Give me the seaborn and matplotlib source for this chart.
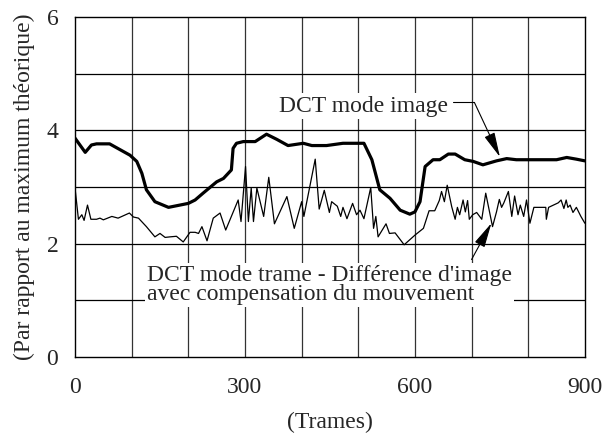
import matplotlib
matplotlib.use('Agg')
import matplotlib.pyplot as plt
import seaborn as sns
import pandas as pd

# DCT mode image (thick line)
image_frames = [0, 18, 29, 38, 61, 79, 97, 109, 118, 126, 141, 165, 200, 212, 226, 250,
                262, 276, 279, 285, 297, 318, 338, 356, 376, 403, 418, 444, 473, 510,
                524, 538, 556, 574, 591, 600, 609, 618, 632, 644, 659, 671, 688, 703,
                720, 744, 762, 779, 850, 868, 885, 900]
image_values = [3.86, 3.61, 3.74, 3.76, 3.76, 3.66, 3.56, 3.45, 3.24, 2.95, 2.74, 2.64, 2.71,
                2.77, 2.89, 3.09, 3.15, 3.30, 3.68, 3.77, 3.80, 3.80, 3.93, 3.84, 3.73,
                3.77, 3.73, 3.73, 3.77, 3.77, 3.48, 2.95, 2.80, 2.59, 2.52, 2.56, 2.74,
                3.36, 3.48, 3.48, 3.58, 3.58, 3.48, 3.45, 3.39, 3.46, 3.50, 3.48, 3.48,
                3.52, 3.49, 3.46]

# DCT mode trame - difference d'image (thin line)
trame_frames = [0, 6, 12, 16, 22, 28, 38, 44, 50, 65, 76, 96, 103, 112, 126, 141, 150, 159,
                168, 179, 191, 203, 212, 218, 224, 233, 244, 256, 266, 288, 293, 301, 306,
                311, 315, 321, 333, 342, 352, 374, 387, 400, 404, 424, 431, 440, 449, 453,
                463, 469, 473, 480, 490, 497, 503, 510, 522, 527, 531, 535, 549, 555, 565,
                581, 600, 615, 625, 635, 643, 647, 652, 657, 665, 671, 675, 679, 685, 689,
                693, 696, 702, 709, 718, 725, 737, 744, 749, 753, 757, 765, 771, 776, 782,
                786, 792, 797, 803, 810, 831, 832, 836, 853, 858, 863, 867, 870, 874, 879,
                885, 893, 900]
trame_values = [2.98, 2.43, 2.51, 2.41, 2.68, 2.43, 2.43, 2.45, 2.42, 2.48, 2.45, 2.54, 2.47,
                2.45, 2.30, 2.12, 2.18, 2.11, 2.12, 2.13, 2.03, 2.20, 2.20, 2.18, 2.30, 2.05,
                2.45, 2.54, 2.24, 2.77, 2.39, 3.36, 2.39, 2.98, 2.39, 2.98, 2.48, 3.17, 2.35,
                2.83, 2.27, 2.74, 2.48, 3.49, 2.61, 2.94, 2.55, 2.74, 2.66, 2.48, 2.64, 2.44,
                2.71, 2.51, 2.59, 2.44, 2.99, 2.27, 2.48, 2.12, 2.35, 2.18, 2.19, 1.98, 2.15,
                2.27, 2.58, 2.58, 2.76, 2.92, 2.74, 3.03, 2.65, 2.43, 2.64, 2.51, 2.77, 2.56,
                2.76, 2.43, 2.51, 2.55, 2.43, 2.89, 2.30, 2.56, 2.78, 2.64, 2.72, 2.92, 2.48,
                2.84, 2.51, 2.68, 2.48, 2.77, 2.36, 2.64, 2.64, 2.43, 2.64, 2.72, 2.77, 2.62,
                2.77, 2.64, 2.68, 2.55, 2.64, 2.48, 2.36]

x_ticks = [0, 300, 600, 900]
y_ticks = [0, 2, 4, 6]

sns.set_style('white')
plt.rcParams['font.family'] = ['Liberation Serif', 'DejaVu Serif']
plt.rcParams['font.size'] = 17

image_df = pd.DataFrame({'Trames': image_frames, 'Valeur': image_values})
trame_df = pd.DataFrame({'Trames': trame_frames, 'Valeur': trame_values})

fig = plt.figure(figsize=(6.15, 4.43), dpi=100)
ax = fig.add_axes([0.122, 0.194, 0.829, 0.768])

# grid drawn under the curves
for gx in range(100, 900, 100):
    ax.axvline(gx, color='#333333', lw=0.9, zorder=0)
for gy in range(1, 6):
    ax.axhline(gy, color='black', lw=0.9, zorder=0)

sns.lineplot(data=trame_df, x='Trames', y='Valeur', color='black', lw=0.9,
             estimator=None, sort=False, ax=ax, zorder=2)
sns.lineplot(data=image_df, x='Trames', y='Valeur', color='black', lw=2.3,
             estimator=None, sort=False, ax=ax, zorder=3)

ax.set_xlim(0, 900)
ax.set_ylim(0, 6)
ax.set_xticks(x_ticks)
ax.set_yticks(y_ticks)
ax.tick_params(length=0, labelsize=17)
ax.tick_params(axis='x', pad=14)
ax.tick_params(axis='y', pad=12)
for s in ax.spines.values():
    s.set_color('black')
    s.set_linewidth(1.0)
ax.set_xlabel('(Trames)', fontsize=17, labelpad=10)
ax.set_ylabel('(Par rapport au maximum théorique)', fontsize=17, labelpad=8)

box = dict(facecolor='white', edgecolor='none', pad=1.5)
ax.text(360, 4.33, 'DCT mode image', ha='left', va='baseline', fontsize=17, bbox=box, zorder=4)
ax.plot([667, 705], [4.49, 4.49], color='black', lw=0.8, zorder=4)
ax.annotate('', xy=(750, 3.53), xytext=(705, 4.49),
            arrowprops=dict(arrowstyle='-|>,head_length=0.9,head_width=0.2',
                            color='black', lw=0.8, shrinkA=0, shrinkB=0), zorder=4)

ax.text(127, 1.0, "DCT mode trame - Différence d'image\navec compensation du mouvement",
        ha='left', va='baseline', fontsize=17, linespacing=0.9, bbox=box, zorder=4)
ax.annotate('', xy=(735, 2.36), xytext=(700, 1.72),
            arrowprops=dict(arrowstyle='-|>,head_length=0.9,head_width=0.2',
                            color='black', lw=0.8, shrinkA=0, shrinkB=0), zorder=5)

fig.savefig('out.png', dpi=100)
